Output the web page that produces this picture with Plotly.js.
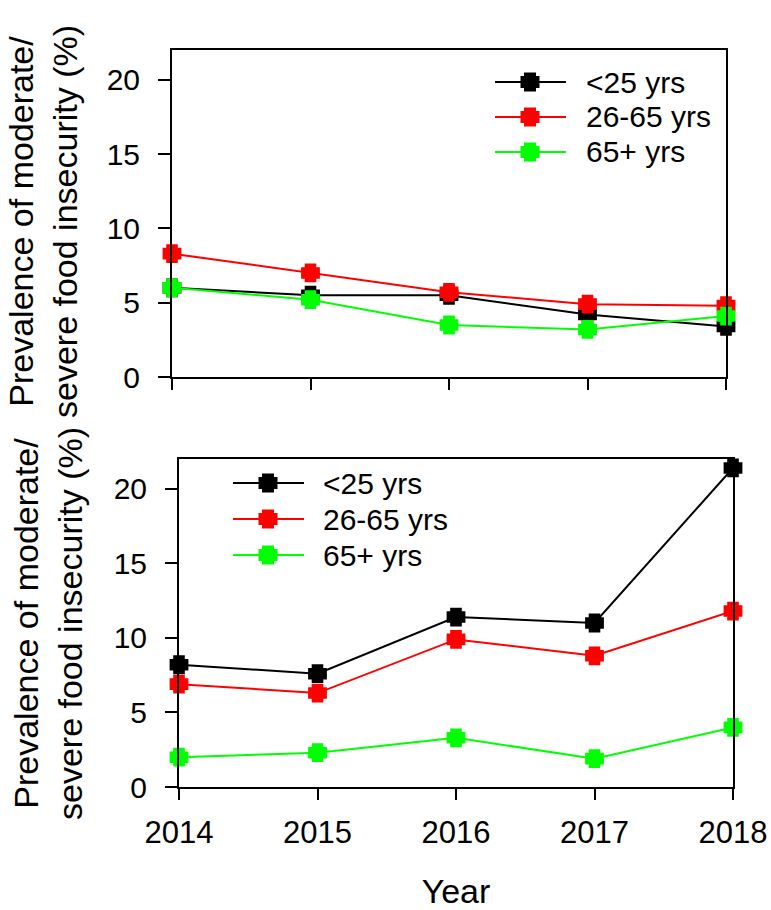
<!DOCTYPE html>
<html>
<head>
<meta charset="utf-8">
<script src="https://cdn.plot.ly/plotly-3.0.1.min.js"></script>
<style>html,body{margin:0;padding:0;background:#fff;}#chart{width:771px;height:910px;}</style>
</head>
<body>
<div id="chart"></div>
<script>
// ---- data ----
const years = [2014, 2015, 2016, 2017, 2018];
const seriesNames = ['<25 yrs', '26-65 yrs', '65+ yrs'];
const seriesColors = ['#000000', '#ff0000', '#00ff00'];
const topUnder25 = [6.0, 5.5, 5.5, 4.2, 3.4];
const top26to65 = [8.3, 7.0, 5.7, 4.9, 4.8];
const top65plus = [6.0, 5.2, 3.5, 3.2, 4.1];
const botUnder25 = [8.2, 7.6, 11.4, 11.0, 21.4];
const bot26to65 = [6.9, 6.3, 9.9, 8.8, 11.8];
const bot65plus = [2.0, 2.3, 3.3, 1.9, 4.0];
const yTickVals = [0, 5, 10, 15, 20];
const yTitle = 'Prevalence of moderate/<br>severe food insecurity (%)';
const xTitle = 'Year';

// ---- layout helpers ----
const W = 771, H = 910;
const FONT = 'Liberation Sans, Arial, Helvetica, sans-serif';
const px = x => x / W;
const py = y => 1 - y / H;

const topSeries = [topUnder25, top26to65, top65plus];
const botSeries = [botUnder25, bot26to65, bot65plus];

const traces = [];
function addPanel(series, xa, ya) {
  series.forEach((vals, i) => {
    traces.push({
      x: years, y: vals, type: 'scatter', mode: 'lines+markers',
      name: seriesNames[i], xaxis: xa, yaxis: ya, showlegend: false,
      cliponaxis: false,
      line: {color: seriesColors[i], width: 2},
      marker: {symbol: 'cross', size: 9, color: seriesColors[i],
               line: {color: seriesColors[i], width: 8}}
    });
  });
}
addPanel(topSeries, 'x', 'y');
addPanel(botSeries, 'x2', 'y2');

function xAxis(domain, showLabels, title) {
  const a = {
    domain: domain, range: [2014, 2018], tickvals: years,
    ticktext: years.map(String), showticklabels: showLabels,
    ticks: 'outside', ticklen: 11, tickwidth: 2, tickcolor: '#000',
    showline: true, linewidth: 2, linecolor: '#000', mirror: true,
    showgrid: false, zeroline: false, fixedrange: true,
    tickfont: {family: FONT, size: 31, color: '#000'},
    ticklabelstandoff: 6
  };
  if (title) a.title = {text: title, font: {family: FONT, size: 34, color: '#000'}, standoff: 34};
  return a;
}
function yAxis(domain, anchor) {
  return {
    domain: domain, range: [0, 22], tickvals: yTickVals,
    ticks: 'outside', ticklen: 12, tickwidth: 2, tickcolor: '#000',
    showline: true, linewidth: 2, linecolor: '#000', mirror: true,
    showgrid: false, zeroline: false, fixedrange: true, anchor: anchor,
    tickfont: {family: FONT, size: 30, color: '#000'},
    ticklabelstandoff: 12
  };
}

// ---- custom legends and y titles (paper positions) ----
const legends = [
  {lineX0: 495, lineX1: 566, markX: 530, textX: 584, rows: [82, 117, 152]},
  {lineX0: 233, lineX1: 304, markX: 268, textX: 321, rows: [483, 519, 555]}
];
const yTitlePos = [{x: 0, y: 222}, {x: 5, y: 624}];
const shapes = [], annotations = [];
const a = 6, e = 9.5;
const crossPath = `M${-a},${-e}H${a}V${-a}H${e}V${a}H${a}V${e}H${-a}V${a}H${-e}V${-a}H${-a}Z`;
legends.forEach(lg => {
  seriesNames.forEach((nm, i) => {
    const yy = py(lg.rows[i]);
    shapes.push({type: 'line', xref: 'paper', yref: 'paper',
      x0: px(lg.lineX0), x1: px(lg.lineX1), y0: yy, y1: yy,
      line: {color: seriesColors[i], width: 2}});
    shapes.push({type: 'path', xref: 'paper', yref: 'paper',
      xsizemode: 'pixel', ysizemode: 'pixel',
      xanchor: px(lg.markX), yanchor: yy, path: crossPath,
      fillcolor: seriesColors[i], line: {width: 0}});
    annotations.push({xref: 'paper', yref: 'paper', x: px(lg.textX), y: yy,
      xanchor: 'left', yanchor: 'middle', showarrow: false, text: nm,
      font: {family: FONT, size: 30, color: '#000'}});
  });
});
yTitlePos.forEach(p => {
  annotations.push({xref: 'paper', yref: 'paper', x: px(p.x), y: py(p.y),
    xanchor: 'left', yanchor: 'middle', showarrow: false, textangle: -90,
    text: yTitle, align: 'center',
    font: {family: FONT, size: 34, color: '#000'}});
});

const layout = {
  width: W, height: H,
  margin: {l: 0, r: 0, t: 0, b: 0},
  paper_bgcolor: '#fff', plot_bgcolor: '#fff',
  showlegend: false,
  font: {family: FONT, color: '#000'},
  xaxis: xAxis([px(172), px(726)], false, null),
  yaxis: yAxis([py(377), py(50)], 'x'),
  xaxis2: Object.assign(xAxis([px(179), px(733)], true, xTitle), {anchor: 'y2'}),
  yaxis2: yAxis([py(787), py(459)], 'x2'),
  shapes: shapes,
  annotations: annotations
};
layout.xaxis.anchor = 'y';

Plotly.newPlot('chart', traces, layout, {staticPlot: true, displayModeBar: false});
</script>
</body>
</html>
